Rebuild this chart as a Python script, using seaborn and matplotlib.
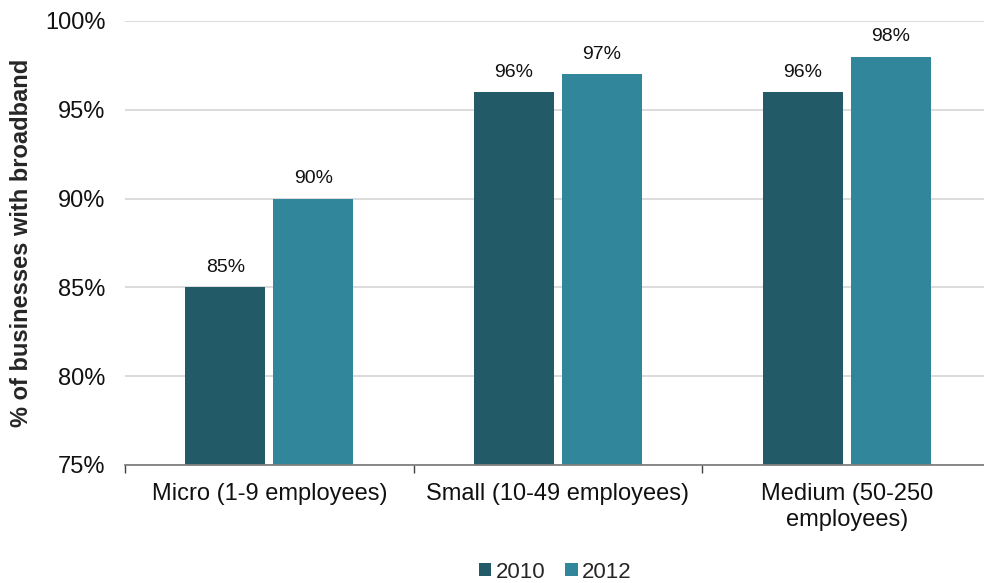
import matplotlib
matplotlib.use("Agg")
import matplotlib.pyplot as plt
import seaborn as sns
import pandas as pd

categories = ["Micro (1-9 employees)", "Small (10-49 employees)", "Medium (50-250\nemployees)"]
years = ["2010", "2012"]
values_2010 = [85, 96, 96]
values_2012 = [90, 97, 98]
palette = ["#235A67", "#31869B"]

df = pd.DataFrame({
    "category": categories * 2,
    "year": [years[0]] * 3 + [years[1]] * 3,
    "value": values_2010 + values_2012,
})

sns.set_theme(style="white")
plt.rcParams["font.family"] = ["Liberation Sans", "DejaVu Sans"]

fig = plt.figure(figsize=(9.84, 5.83), dpi=100)
ax = fig.add_axes([125 / 984, 118 / 583, 866 / 984, 444 / 583])

sns.barplot(data=df, x="category", y="value", hue="year", palette=palette,
            width=0.61, gap=0.09, ax=ax, saturation=1, edgecolor="none")

ax.set_ylim(75, 100)
ax.set_xlim(-0.5, 2.5)
ax.set_yticks([75, 80, 85, 90, 95, 100])
ax.set_yticklabels([f"{t}%" for t in [75, 80, 85, 90, 95, 100]], fontsize=17, color="#111111")
ax.tick_params(axis="y", length=0, pad=14)
ax.yaxis.grid(True, color="#d9d9d9", linewidth=1.3)
ax.set_axisbelow(True)
for s in ["top", "right", "left"]:
    ax.spines[s].set_visible(False)
ax.spines["bottom"].set_color("#808080")
ax.spines["bottom"].set_linewidth(1.3)

ax.set_xticks([-0.5, 0.5, 1.5, 2.5], minor=True)
ax.tick_params(axis="x", which="minor", bottom=True, length=6, color="#404040", width=1)
ax.tick_params(axis="x", which="major", length=0, pad=13)
ax.set_xticklabels(categories, fontsize=17, color="#111111", linespacing=1.25)
ax.set_xlabel("")
ax.set_ylabel("% of businesses with broadband", fontsize=17, fontweight="bold", labelpad=9)

for cont in ax.containers:
    ax.bar_label(cont, labels=[f"{v:.0f}%" for v in cont.datavalues],
                 padding=8, fontsize=14, color="#111111")

leg = ax.legend(loc="lower center", bbox_to_anchor=(0.497, -0.30), ncol=2, frameon=False,
                fontsize=16, handlelength=0.55, handleheight=0.55, handletextpad=0.2,
                columnspacing=0.9, borderpad=0.2)

fig.savefig("out.png", dpi=100)
